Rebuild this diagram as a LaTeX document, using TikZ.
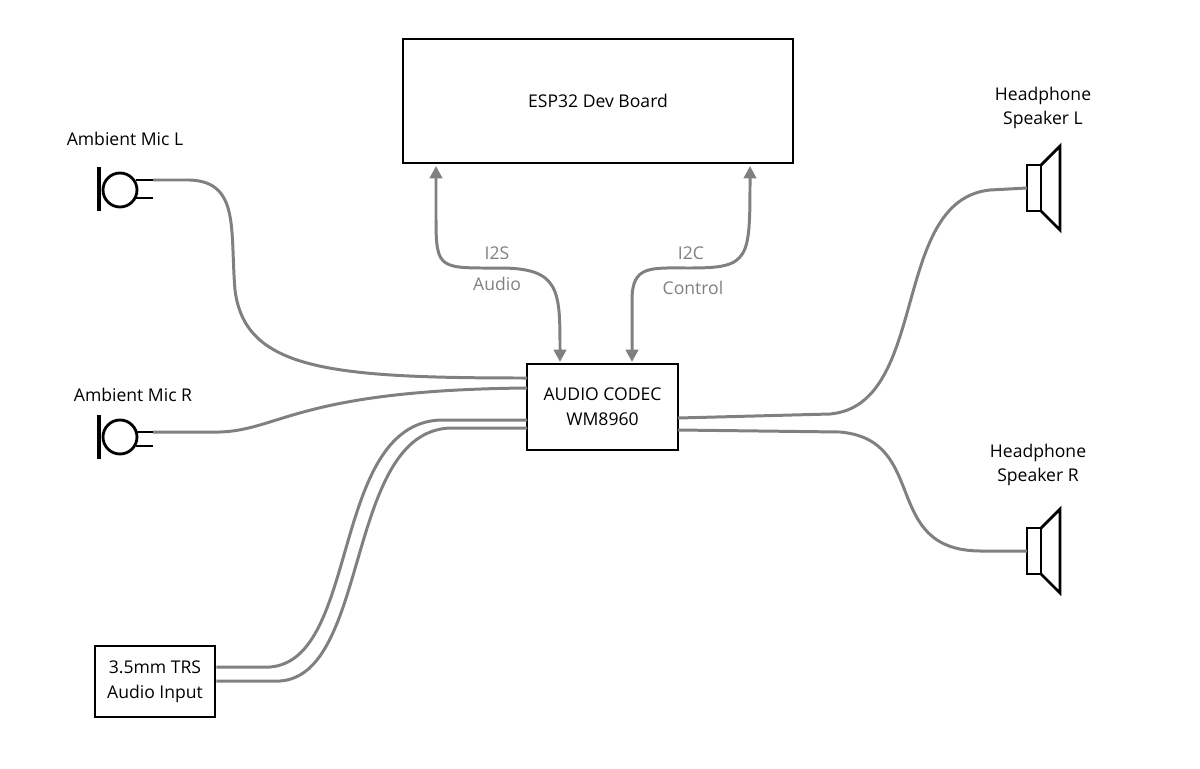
\documentclass[tikz,border=0pt]{standalone}
\usepackage{fontspec}
\setmainfont{Open Sans}
\usetikzlibrary{arrows.meta}
\definecolor{wire}{RGB}{128,128,128}
\tikzset{
  x=0.02cm,y=-0.02cm,
  box/.style={draw=black,line width=1.6pt,inner sep=0pt,font=\fontsize{10}{14}\selectfont,align=center},
  lbl/.style={font=\fontsize{10}{14}\selectfont,align=center,text=black},
  wl/.style={font=\fontsize{10}{14}\selectfont,text=wire},
  w/.style={draw=wire,line width=1.7pt},
  sym/.style={draw=black,line width=1.6pt},
  arr/.style={w,{Triangle[length=7pt,width=7pt]}-{Triangle[length=7pt,width=7pt]}}
}
\begin{document}
\begin{tikzpicture}
\useasboundingbox (0,0) rectangle (1200,768);
\node[box,minimum width=7.8cm,minimum height=2.48cm] (esp) at (598,101) {ESP32 Dev Board};
\node[box,minimum width=3.02cm,minimum height=1.72cm] (codec) at (602.5,407) {AUDIO CODEC\\WM8960};
\node[box,minimum width=2.4cm,minimum height=1.42cm] (trs) at (155,681.5) {3.5mm TRS\\Audio Input};
% mics
\node[lbl] (mlt) at (125,139) {Ambient Mic L};
\node[lbl] (mrt) at (133,395) {Ambient Mic R};
\draw[sym,line width=2.6pt] (99,167) -- (99,211);
\draw[sym] (120,190) circle (17);
\draw[sym] (136,180) -- (153,180) (136,198) -- (153,198);
\coordinate (ml) at (153,180);
\draw[sym,line width=2.6pt] (99,415) -- (99,459);
\draw[sym] (120,437) circle (17);
\draw[sym] (136,432) -- (153,432) (136,446) -- (153,446);
\coordinate (mr) at (153,432);
% speakers
\node[lbl] (slt) at (1043,108) {Headphone\\Speaker L};
\node[lbl] (srt) at (1038,465) {Headphone\\Speaker R};
\draw[sym] (1027,165) rectangle (1041,211);
\draw[sym] (1041,165) -- (1060,146) -- (1060,230) -- (1041,211);
\coordinate (sl) at (1027,188);
\draw[sym] (1027,528) rectangle (1041,574);
\draw[sym] (1041,528) -- (1060,509) -- (1060,593) -- (1041,574);
\coordinate (sr) at (1027,551);
% wires
\draw[w] (ml) -- (190,180) .. controls (240,182) and (230,230) .. (235,290) .. controls (245,370) and (330,378) .. (527,378);
\draw[w] (mr) -- (220,432) .. controls (280,430) and (300,390) .. (527,388);
\draw[w] (trs.east|-0,667) -- (270,667) .. controls (360,660) and (330,425) .. (440,420) -- (527,420);
\draw[w] (trs.east|-0,681) -- (280,681) .. controls (370,675) and (345,432) .. (450,428) -- (527,428);
\draw[w] (678,418) -- (830,414) .. controls (930,405) and (890,200) .. (990,190) -- (sl);
\draw[w] (678,430) -- (840,432) .. controls (930,440) and (880,550) .. (980,551) -- (sr);
% buses
\draw[arr] (436,166) -- (436,220) .. controls (436,270) and (440,268) .. (500,268) .. controls (560,268) and (560,290) .. (560,362);
\draw[arr] (632,362) -- (632,300) .. controls (632,265) and (650,268) .. (690,268) .. controls (750,268) and (750,260) .. (750,166);
\node[wl] (i2s) at (497,253) {I2S};
\node[wl] (aud) at (497,284) {Audio};
\node[wl] (i2c) at (691,253) {I2C};
\node[wl] (ctl) at (693,288) {Control};
\end{tikzpicture}
\end{document}
